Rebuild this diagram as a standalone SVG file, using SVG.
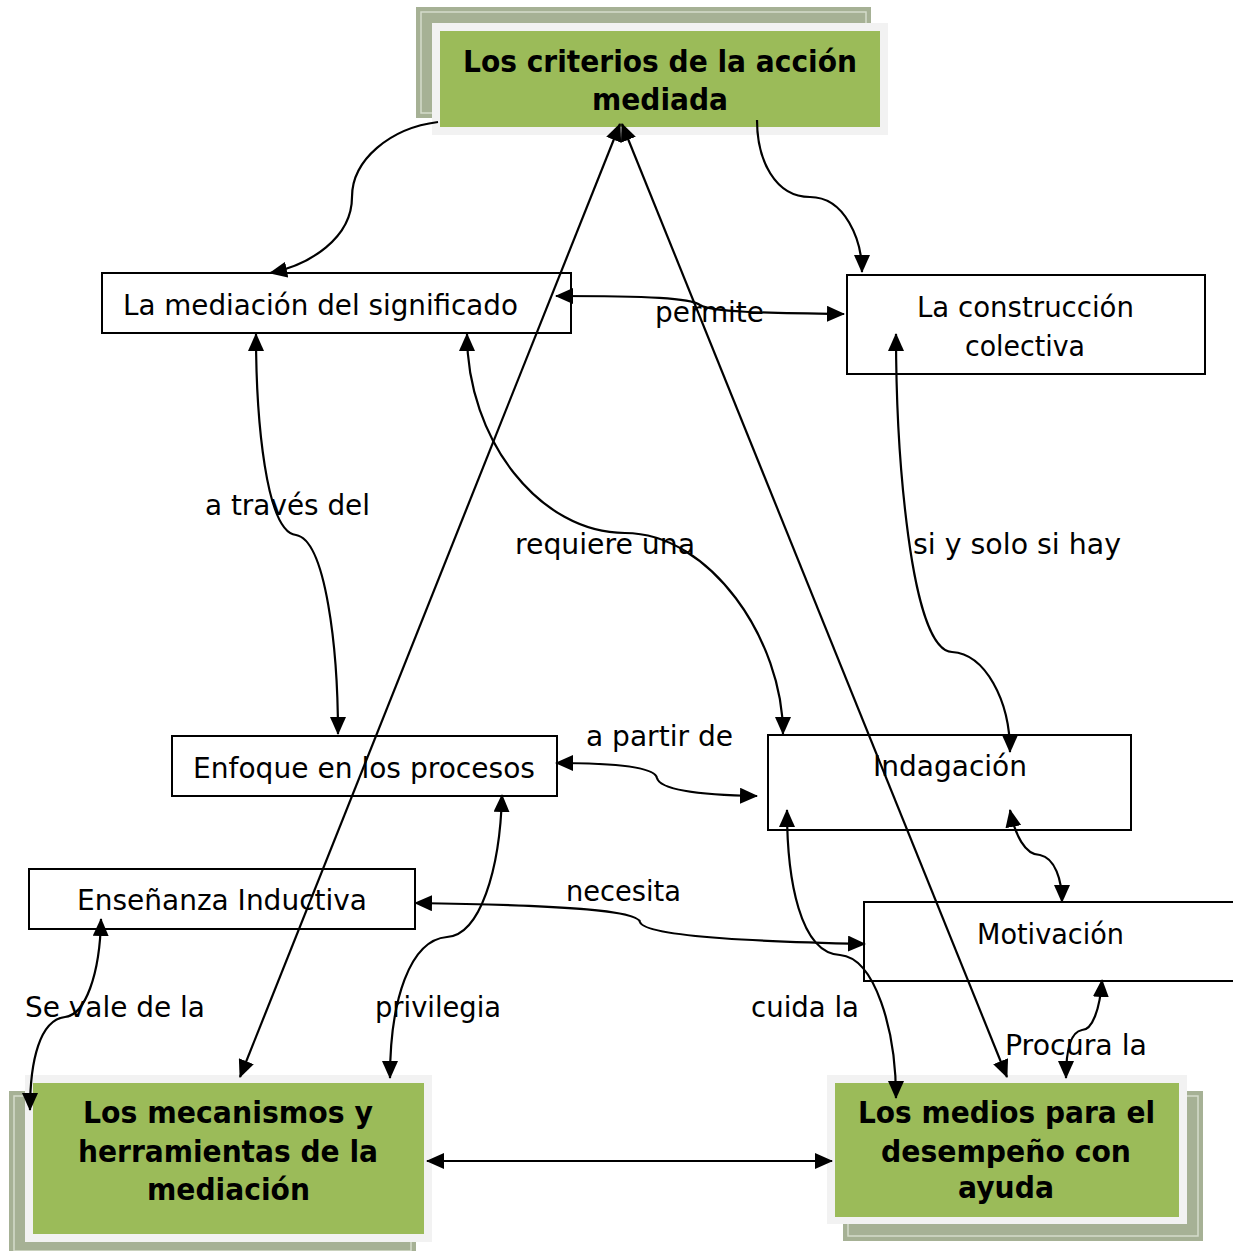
<svg xmlns="http://www.w3.org/2000/svg" width="1233" height="1251" viewBox="0 0 1233 1251">
<style>
.box{fill:#fff;stroke:#000;stroke-width:2}
.shadow{fill:#A6B195}
.shline{fill:none;stroke:#D5DCCB;stroke-width:1.5}
.frame{fill:#F2F2F2}
.green{fill:#9BBB59}
.t{font-family:"DejaVu Sans","Liberation Sans",sans-serif;font-size:29px;fill:#000}
.b{font-family:"DejaVu Sans","Liberation Sans",sans-serif;font-size:31px;font-weight:bold;fill:#000}
.c{fill:none;stroke:#000;stroke-width:2.2}
</style>
<defs>
<marker id="ah" viewBox="0 0 18 16" markerWidth="18" markerHeight="16" refX="17" refY="8" orient="auto-start-reverse" markerUnits="userSpaceOnUse">
<path d="M0,0 L18,8 L0,16 z" fill="#000"/>
</marker>
</defs>
<rect width="1233" height="1251" fill="#fff"/>

<g id="node-criterios">
<rect class="shadow" x="416" y="7" width="455" height="111"/>
<rect class="shline" x="421" y="12" width="445" height="101"/>
<rect class="frame" x="432" y="23" width="456" height="112"/>
<rect class="green" x="440" y="31" width="440" height="96"/>
<text class="b" x="463" y="72" textLength="394" lengthAdjust="spacingAndGlyphs">Los criterios de la acción</text>
<text class="b" x="592" y="110" textLength="136" lengthAdjust="spacingAndGlyphs">mediada</text>
</g>

<g id="node-mecanismos">
<rect class="shadow" x="9" y="1091" width="407" height="160"/>
<rect class="shline" x="14" y="1096" width="397" height="155"/>
<rect class="frame" x="25" y="1075" width="407" height="167"/>
<rect class="green" x="33" y="1083" width="391" height="151"/>
<text class="b" x="83" y="1123" textLength="290" lengthAdjust="spacingAndGlyphs">Los mecanismos y</text>
<text class="b" x="78" y="1162" textLength="300" lengthAdjust="spacingAndGlyphs">herramientas de la</text>
<text class="b" x="147" y="1200" textLength="163" lengthAdjust="spacingAndGlyphs">mediación</text>
</g>

<g id="node-medios">
<rect class="shadow" x="843" y="1091" width="360" height="150"/>
<rect class="shline" x="848" y="1096" width="350" height="140"/>
<rect class="frame" x="827" y="1075" width="360" height="149"/>
<rect class="green" x="835" y="1083" width="344" height="134"/>
<text class="b" x="858" y="1123" textLength="297" lengthAdjust="spacingAndGlyphs">Los medios para el</text>
<text class="b" x="881" y="1162" textLength="250" lengthAdjust="spacingAndGlyphs">desempeño con</text>
<text class="b" x="958" y="1198" textLength="96" lengthAdjust="spacingAndGlyphs">ayuda</text>
</g>

<g id="node-mediacion">
<rect class="box" x="102" y="273" width="469" height="60"/>
<text class="t" x="123" y="315" textLength="395" lengthAdjust="spacingAndGlyphs">La mediación del significado</text>
</g>

<g id="node-construccion">
<rect class="box" x="847" y="275" width="358" height="99"/>
<text class="t" x="917" y="317" textLength="217" lengthAdjust="spacingAndGlyphs">La construcción</text>
<text class="t" x="965" y="356" textLength="120" lengthAdjust="spacingAndGlyphs">colectiva</text>
</g>

<g id="node-enfoque">
<rect class="box" x="172" y="736" width="385" height="60"/>
<text class="t" x="193" y="778" textLength="342" lengthAdjust="spacingAndGlyphs">Enfoque en los procesos</text>
</g>

<g id="node-indagacion">
<rect class="box" x="768" y="735" width="363" height="95"/>
<text class="t" x="873" y="776" textLength="154" lengthAdjust="spacingAndGlyphs">Indagación</text>
</g>

<g id="node-ensenanza">
<rect class="box" x="29" y="869" width="386" height="60"/>
<text class="t" x="77" y="910" textLength="290" lengthAdjust="spacingAndGlyphs">Enseñanza Inductiva</text>
</g>

<g id="node-motivacion">
<rect class="box" x="864" y="902" width="380" height="79"/>
<text class="t" x="977" y="944" textLength="147" lengthAdjust="spacingAndGlyphs">Motivación</text>
</g>

<g id="connectors">
<path class="c" d="M438,122 C390,128 352,160 352,197 C352,238 310,265 270,273" marker-end="url(#ah)"/>
<path class="c" d="M757,120 C757,160 775,197 810,197 C845,197 862,240 862,272" marker-end="url(#ah)"/>
<path class="c" d="M620,124 L240,1077" marker-start="url(#ah)" marker-end="url(#ah)"/>
<path class="c" d="M622,124 L1007,1077" marker-start="url(#ah)" marker-end="url(#ah)"/>
<path class="c" d="M556,296 C650,296 690,298 700,305 C712,312 760,313 844,314" marker-start="url(#ah)" marker-end="url(#ah)"/>
<path class="c" d="M256,334 C256,420 266,532 296,535 C326,540 338,650 338,734" marker-start="url(#ah)" marker-end="url(#ah)"/>
<path class="c" d="M467,334 C467,440 540,533 625,533 C710,533 783,640 783,734" marker-start="url(#ah)" marker-end="url(#ah)"/>
<path class="c" d="M896,334 C896,450 910,650 952,652 C985,654 1010,700 1010,752" marker-start="url(#ah)" marker-end="url(#ah)"/>
<path class="c" d="M556,763 C620,763 655,768 657,778 C660,790 700,795 757,796" marker-start="url(#ah)" marker-end="url(#ah)"/>
<path class="c" d="M1010,810 C1015,835 1025,855 1040,855 C1055,858 1062,880 1062,902" marker-start="url(#ah)" marker-end="url(#ah)"/>
<path class="c" d="M415,903 C560,905 638,910 640,922 C645,938 780,942 865,944" marker-start="url(#ah)" marker-end="url(#ah)"/>
<path class="c" d="M787,810 C787,880 800,953 840,955 C875,958 896,1030 896,1098" marker-start="url(#ah)" marker-end="url(#ah)"/>
<path class="c" d="M1102,980 C1100,1010 1092,1030 1082,1030 C1070,1032 1066,1050 1066,1078" marker-start="url(#ah)" marker-end="url(#ah)"/>
<path class="c" d="M502,795 C500,870 480,935 447,937 C410,940 390,1000 390,1078" marker-start="url(#ah)" marker-end="url(#ah)"/>
<path class="c" d="M101,919 C100,975 85,1015 65,1017 C40,1020 30,1060 30,1110" marker-start="url(#ah)" marker-end="url(#ah)"/>
<path class="c" d="M427,1161 L832,1161" marker-start="url(#ah)" marker-end="url(#ah)"/>
</g>

<g id="labels">
<text class="t" x="655" y="322" textLength="109" lengthAdjust="spacingAndGlyphs">permite</text>
<text class="t" x="205" y="515" textLength="165" lengthAdjust="spacingAndGlyphs">a través del</text>
<text class="t" x="515" y="554" textLength="180" lengthAdjust="spacingAndGlyphs">requiere una</text>
<text class="t" x="913" y="554" textLength="208" lengthAdjust="spacingAndGlyphs">si y solo si hay</text>
<text class="t" x="586" y="746" textLength="147" lengthAdjust="spacingAndGlyphs">a partir de</text>
<text class="t" x="566" y="901" textLength="115" lengthAdjust="spacingAndGlyphs">necesita</text>
<text class="t" x="25" y="1017" textLength="180" lengthAdjust="spacingAndGlyphs">Se vale de la</text>
<text class="t" x="375" y="1017" textLength="126" lengthAdjust="spacingAndGlyphs">privilegia</text>
<text class="t" x="751" y="1017" textLength="108" lengthAdjust="spacingAndGlyphs">cuida la</text>
<text class="t" x="1005" y="1055" textLength="142" lengthAdjust="spacingAndGlyphs">Procura la</text>
</g>
</svg>
